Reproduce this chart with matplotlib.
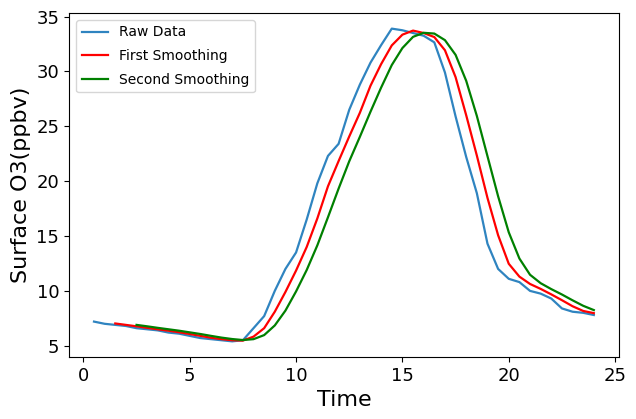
import matplotlib
matplotlib.use('Agg')
import matplotlib.pyplot as plt

# 原始数据（每半小时）
time_raw = [0.5, 1, 1.5, 2, 2.5, 3, 3.5, 4, 4.5, 5, 5.5, 6, 6.5, 7, 7.5, 8,
            8.5, 9, 9.5, 10, 10.5, 11, 11.5, 12, 12.5, 13, 13.5, 14, 14.5, 15,
            15.5, 16, 16.5, 17, 17.5, 18, 18.5, 19, 19.5, 20, 20.5, 21, 21.5,
            22, 22.5, 23, 23.5, 24]
raw_data = [7.2, 7.0, 6.9, 6.8, 6.6, 6.5, 6.4, 6.2, 6.1, 5.9, 5.7, 5.6, 5.5,
            5.4, 5.5, 6.6, 7.7, 10.0, 12.0, 13.5, 16.5, 19.8, 22.3, 23.4, 26.5,
            28.8, 30.8, 32.4, 33.9, 33.75, 33.5, 33.25, 32.65, 29.9, 25.9, 22.2,
            18.9, 14.3, 12.0, 11.1, 10.8, 10.0, 9.75, 9.3, 8.4, 8.1, 8.0, 7.8]

# 第一次平滑
time_first = time_raw[2:]
first_smooth = [7.03, 6.9, 6.77, 6.63, 6.5, 6.37, 6.23, 6.07, 5.9, 5.73, 5.6,
                5.5, 5.47, 5.83, 6.6, 8.1, 9.9, 11.85, 14.0, 16.6, 19.53, 21.83,
                24.07, 26.23, 28.7, 30.67, 32.37, 33.35, 33.72, 33.5, 33.13,
                31.93, 29.48, 26.0, 22.33, 18.47, 15.07, 12.47, 11.3, 10.63,
                10.18, 9.68, 9.15, 8.6, 8.17, 7.97]

# 第二次平滑
time_second = time_raw[4:]
second_smooth = [6.9, 6.77, 6.63, 6.5, 6.37, 6.22, 6.07, 5.9, 5.74, 5.61, 5.52,
                 5.6, 5.97, 6.85, 8.2, 9.95, 11.9, 14.15, 16.71, 19.32, 21.81,
                 24.04, 26.33, 28.53, 30.58, 32.13, 33.15, 33.52, 33.45, 32.85,
                 31.51, 29.14, 25.94, 22.27, 18.62, 15.34, 12.95, 11.47, 10.7,
                 10.16, 9.67, 9.14, 8.64, 8.25]


def main():
    fig = plt.figure(figsize=(6.36, 4.19), dpi=100)
    ax = fig.add_axes([0.1085, 0.148, 0.8645, 0.821])
    ax.plot(time_raw, raw_data, color='#2f84c0', lw=1.6, label='Raw Data')
    ax.plot(time_first, first_smooth, color='red', lw=1.6, label='First Smoothing')
    ax.plot(time_second, second_smooth, color='green', lw=1.6, label='Second Smoothing')
    ax.set_xlabel('Time', fontsize=16)
    ax.set_ylabel('Surface O3(ppbv)', fontsize=16)
    ax.tick_params(labelsize=13)
    ax.legend(loc='upper left', fontsize=10, labelspacing=0.7, handlelength=1.9)
    fig.savefig('out.png', dpi=100)


if __name__ == '__main__':
    main()
